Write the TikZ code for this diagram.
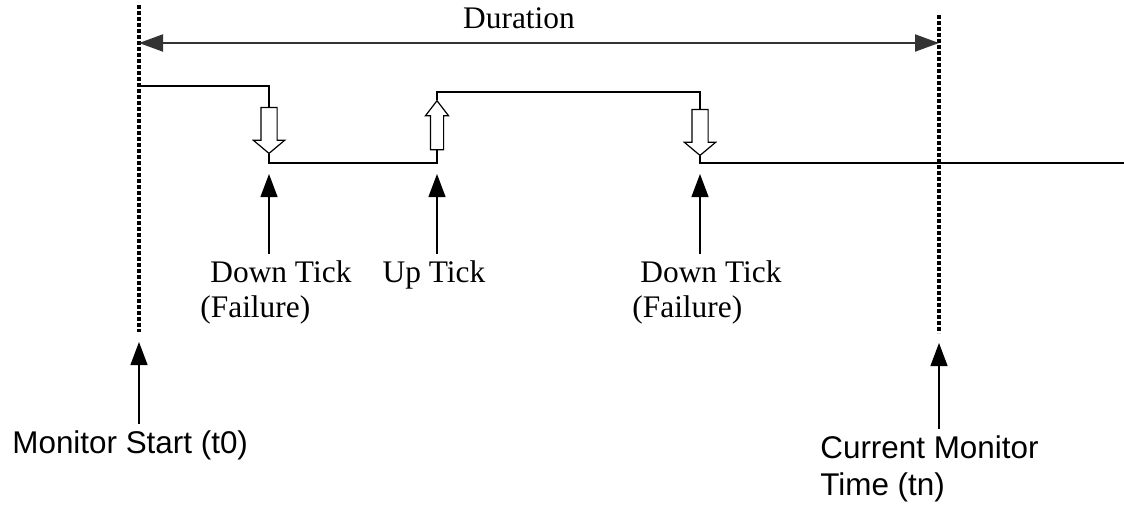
\documentclass[tikz,border=0pt]{standalone}
\usepackage{fontspec}
\setmainfont{Liberation Serif}
\setsansfont{Liberation Sans}
\usetikzlibrary{arrows.meta,shapes.arrows}

\begin{document}
\begin{tikzpicture}[
    x=0.5pt, y=-0.5pt,
    trace/.style={line width=0.6pt, black},
    marker/.style={line width=1.8pt, dash pattern=on 1.8pt off 1.2pt},
    span/.style={line width=1pt, black!80, {Triangle[length=12pt,width=8.5pt]}-{Triangle[length=12pt,width=8.5pt]}},
    pointer/.style={line width=0.6pt, -{Triangle[length=11.5pt,width=8.5pt]}},
    fallarrow/.style={single arrow, draw, fill=white, line width=0.6pt, inner sep=3.75pt, minimum width=15pt, minimum height=23pt, single arrow head extend=3.75pt, single arrow tip angle=100, shape border rotate=270},
    risearrow/.style={single arrow, draw, fill=white, line width=0.6pt, inner sep=3pt, minimum width=11pt, minimum height=24.5pt, single arrow head extend=2.5pt, single arrow tip angle=75, shape border rotate=90},
    seriflabel/.style={font=\fontsize{15.7}{17.5}\selectfont, inner sep=3pt, align=left},
    sanslabel/.style={font=\sffamily\fontsize{15.7}{18.5}\selectfont, inner sep=3pt, align=left}
]
\useasboundingbox (0,0) rectangle (1124,504);

\coordinate (t0top) at (139,5);
\coordinate (t0bot) at (139,332);
\coordinate (tntop) at (939,15);
\coordinate (tnbot) at (939,333);
\coordinate (spanL) at (139,43);
\coordinate (spanR) at (939,43);
\coordinate (s0) at (139,86);
\coordinate (hi) at (0,92);
\coordinate (lo) at (0,163);
\coordinate (sigend) at (1124,163);
\coordinate (tipline) at (0,174);

\node[fallarrow] (fall1) at (269,127) {};
\node[risearrow] (rise1) at (437,129.5) {};
\node[fallarrow] (fall2) at (700,129) {};

\node[seriflabel, anchor=base] (dur) at (519,28) {Duration};
\node[seriflabel, anchor=base west] (dtick1) at (194,317) {\hspace*{5pt}Down Tick\\(Failure)};
\node[seriflabel, anchor=base] (utick) at (434,282) {Up Tick};
\node[seriflabel, anchor=base west] (dtick2) at (626,317) {\hspace*{4pt}Down Tick\\(Failure)};
\node[sanslabel, anchor=base west] (mstart) at (6,453) {Monitor Start (t0)};
\node[sanslabel, anchor=base west] (mnow) at (814,495) {Current Monitor\\Time (tn)};

\draw[marker] (t0top) -- (t0bot);
\draw[marker] (tntop) -- (tnbot);
\draw[span] (spanL) -- (spanR);

\draw[trace] (s0) -| (fall1.tail);
\draw[trace] (fall1.tip) -- (fall1.tip |- lo) -| (rise1.tail);
\draw[trace] (rise1.tip) -- (rise1.tip |- hi) -| (fall2.tail);
\draw[trace] (fall2.tip) -- (fall2.tip |- lo) -- (sigend);

\draw[pointer] (fall1.tip |- dtick1.north) -- (fall1.tip |- tipline);
\draw[pointer] (rise1.tail |- utick.north) -- (rise1.tail |- tipline);
\draw[pointer] (fall2.tip |- dtick2.north) -- (fall2.tip |- tipline);
\draw[pointer] (mstart.north -| t0bot) -- ([yshift=-5pt]t0bot);
\draw[pointer] (mnow.north -| tnbot) -- ([yshift=-5pt]tnbot);
\end{tikzpicture}
\end{document}
